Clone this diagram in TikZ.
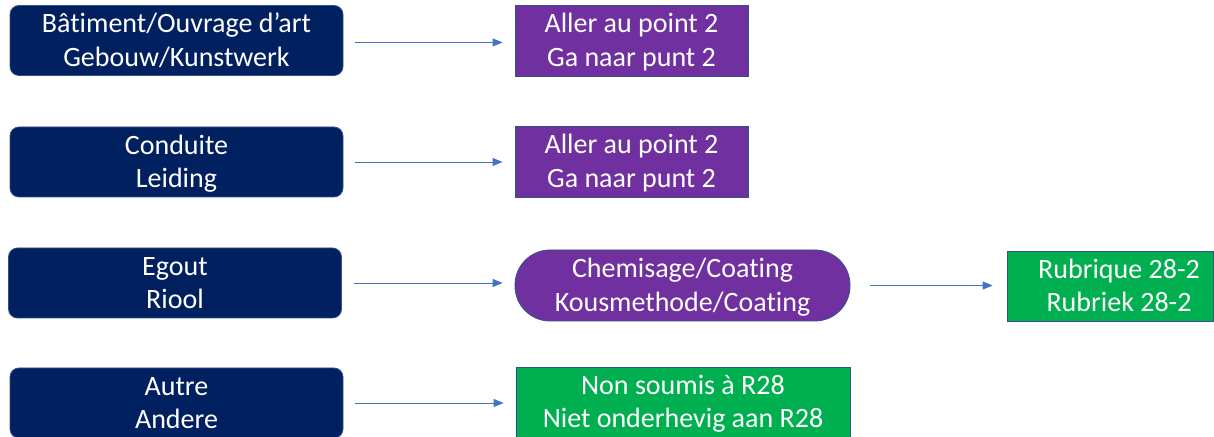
\documentclass[tikz,border=0pt]{standalone}
\usepackage{fontspec}
\setmainfont{Carlito}[Ligatures={NoCommon}]
\usetikzlibrary{arrows.meta}
\definecolor{navy}{HTML}{002060}
\definecolor{purp}{HTML}{7030A0}
\definecolor{grn}{HTML}{00B050}
\definecolor{edge}{HTML}{2F528F}
\definecolor{arr}{HTML}{4472C4}
\newcommand\twolines[2]{\rule{0pt}{26pt}#1\\#2\rule[-8pt]{0pt}{8pt}}
\tikzset{
  base/.style={draw=edge, line width=0.8pt, text=white, align=center, inner sep=0pt,
    font=\fontsize{28}{33.5}\selectfont},
  src/.style={base, fill=navy, rounded corners=9pt, minimum width=333pt, minimum height=70pt},
  purpbox/.style={base, fill=purp, minimum width=233pt, minimum height=71pt},
  stadium/.style={base, fill=purp, rounded corners=35pt, minimum width=335pt, minimum height=71pt},
  grnbox/.style={base, fill=grn, minimum height=70pt},
  link/.style={draw=arr, line width=0.9pt, -{Triangle[length=10pt,width=8pt]}, shorten <=12pt, shorten >=12pt}
}
\begin{document}
\begin{tikzpicture}[x=1pt,y=1pt]
\useasboundingbox (0,0) rectangle (1214,436);
\node[src] (b1) at (176.5,395.5) {\twolines{Bâtiment/Ouvrage d’art}{Gebouw/Kunstwerk}};
\node[src] (b2) at (176.5,274) {\twolines{Conduite}{Leiding}};
\node[src] (b3) at (175,153) {\twolines{Egout}{Riool}};
\node[src] (b4) at (176.5,33) {\twolines{Autre}{Andere}};
\node[purpbox] (p1) at (631.5,395.5) {\twolines{Aller au point 2}{Ga naar punt 2}};
\node[purpbox] (p2) at (631.5,274.5) {\twolines{Aller au point 2}{Ga naar punt 2}};
\node[stadium] (e) at (682.5,150.5) {\twolines{Chemisage/Coating}{Kousmethode/Coating}};
\node[grnbox, minimum width=206pt] (r) at (1110,150) {\twolines{\hspace*{18pt}Rubrique 28-2}{\hspace*{18pt}Rubriek 28-2}};
\node[grnbox, minimum width=334pt] (n) at (683,34) {\twolines{Non soumis à R28}{Niet onderhevig aan R28}};
\draw[link] ([yshift=-2pt]b1.east) -- ([yshift=-2pt]b1.east -| p1.west);
\draw[link] (b2.east) -- (b2.east -| p2.west);
\draw[link] (b3.east) -- (b3.east -| e.west);
\draw[link] (b4.east) -- (b4.east -| n.west);
\draw[link, shorten <=20pt, shorten >=14pt] (e.east) -- (e.east -| r.west);
\end{tikzpicture}
\end{document}
